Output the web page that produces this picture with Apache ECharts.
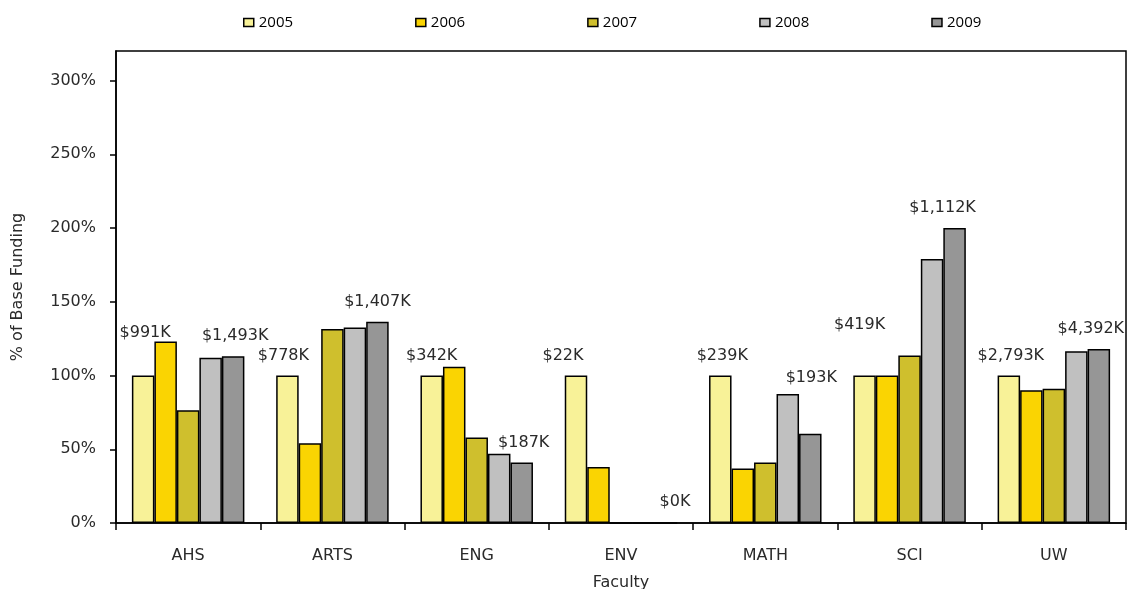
<!DOCTYPE html>
<html>
<head>
<meta charset="utf-8">
<script src="https://cdn.jsdelivr.net/npm/echarts@6/dist/echarts.min.js"></script>
<style>
html,body{margin:0;padding:0;background:#fff;}
#chart{width:1128px;height:589px;}
</style>
</head>
<body>
<div id="chart"></div>
<script>
const categories = ['AHS', 'ARTS', 'ENG', 'ENV', 'MATH', 'SCI', 'UW'];
const years = ['2005', '2006', '2007', '2008', '2009'];
const s2005 = [100, 100, 100, 100, 100, 100, 100];
const s2006 = [123, 54, 106, 38, 37, 100, 90];
const s2007 = [76.5, 131.5, 58, 0, 41, 113.5, 91];
const s2008 = [112, 132.5, 47, 0, 87.5, 179, 116.5];
const s2009 = [113, 136.5, 41, 0, 60.5, 200, 118];
const labels2005 = ['$991K', '$778K', '$342K', '$22K', '$239K', '$419K', '$2,793K'];
const labels2009 = ['$1,493K', '$1,407K', '$187K', '$0K', '$193K', '$1,112K', '$4,392K'];
const yTicks = [0, 50, 100, 150, 200, 250, 300];

const colors = ['#F8F298', '#FAD402', '#CFBF2D', '#C0C0C0', '#969696'];
const seriesData = [s2005, s2006, s2007, s2008, s2009];

// label nudges (layout only)
const nudge2005 = [[2, -23], [-4, 0], [0, 0], [-13, 0], [2, 0], [-5, -31], [2, 0]];
const nudge2009 = [[2, 0], [0, 0], [2, 0], [9, 0], [1, -36], [-12, 0], [-8, 0]];

const FONT = 'DejaVu Sans';

function buildData(values, labels, nudges) {
  return values.map((v, i) => {
    if (!labels) return v;
    return {
      value: v,
      label: { show: true, formatter: labels[i], offset: nudges[i] }
    };
  });
}

const series = years.map((y, k) => ({
  name: y,
  type: 'bar',
  barWidth: 22.5,
  barGap: '0%',
  itemStyle: { color: colors[k], borderColor: '#000', borderWidth: 1.5 },
  label: {
    show: false,
    position: 'top',
    distance: 12,
    fontFamily: FONT,
    fontSize: 16,
    color: '#2a2a2a'
  },
  data: buildData(seriesData[k], k === 0 ? labels2005 : (k === 4 ? labels2009 : null),
                  k === 0 ? nudge2005 : nudge2009)
}));

const chart = echarts.init(document.getElementById('chart'), null, { renderer: 'canvas' });
chart.setOption({
  animation: false,
  backgroundColor: '#fff',
  legend: {
    data: years,
    left: 238,
    top: 10,
    icon: 'rect',
    itemWidth: 10,
    itemHeight: 8,
    itemGap: 122,
    itemStyle: { borderColor: '#000', borderWidth: 1.5 },
    textStyle: { fontFamily: 'Open Sans', fontSize: 15, color: '#000' }
  },
  grid: {
    left: 116, right: 2, top: 51, bottom: 66,
    outerBoundsMode: 'none',
    containLabel: false,
    show: true, borderColor: '#000', borderWidth: 1.5
  },
  xAxis: {
    type: 'category',
    data: categories,
    name: 'Faculty',
    nameLocation: 'middle',
    nameGap: 52,
    nameTextStyle: { fontFamily: FONT, fontSize: 16, color: '#2a2a2a' },
    axisLine: { lineStyle: { color: '#000', width: 1.5 } },
    axisTick: { show: true, inside: false, length: 7, lineStyle: { color: '#000', width: 1.5 } },
    axisLabel: { margin: 25, fontFamily: FONT, fontSize: 16, color: '#2a2a2a' }
  },
  yAxis: {
    type: 'value',
    min: 0,
    max: 320,
    interval: 50,
    name: '% of Base Funding',
    nameLocation: 'middle',
    nameGap: 90,
    nameTextStyle: { fontFamily: FONT, fontSize: 16, color: '#2a2a2a' },
    axisLine: { show: true, lineStyle: { color: '#000', width: 1.5 } },
    axisTick: { show: true, length: 6, customValues: yTicks, lineStyle: { color: '#000', width: 1.5 } },
    axisLabel: { customValues: yTicks, formatter: '{value}%', margin: 20, fontFamily: FONT, fontSize: 16, color: '#2a2a2a' },
    splitLine: { show: false }
  },
  series: series
});
</script>
</body>
</html>
